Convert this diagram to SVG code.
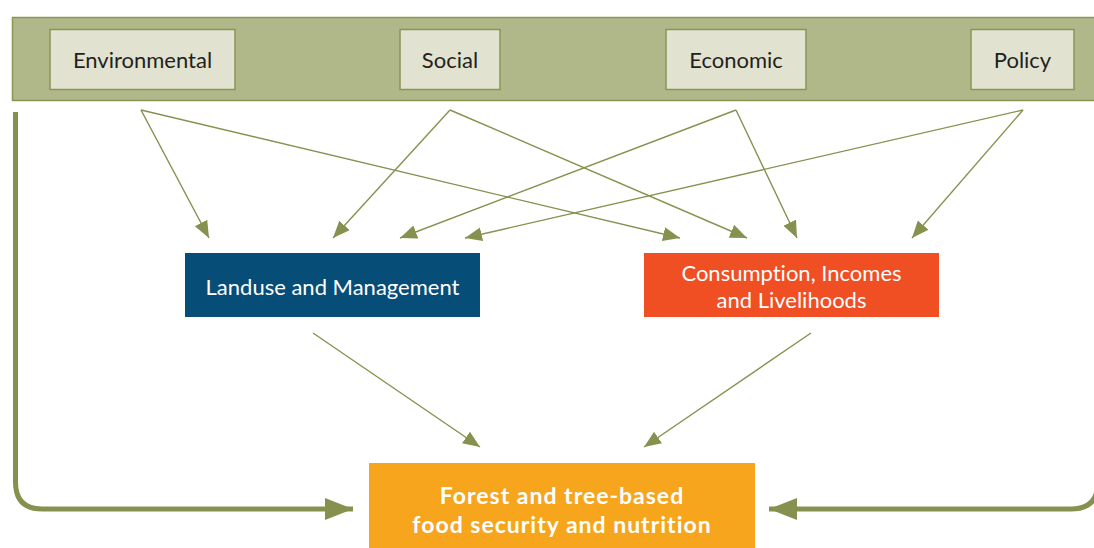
<svg xmlns="http://www.w3.org/2000/svg" width="1094" height="548" viewBox="0 0 1094 548">
<defs>
<style>
.thin{stroke:#87914f;stroke-width:1.4;fill:none;marker-end:url(#ah)}
.thick{stroke:#87914f;stroke-width:5;fill:none;marker-end:url(#ahb)}
.top{fill:#e1e3d0;stroke:#8a9455;stroke-width:1.5}
text{font-variant-ligatures:none}
.tt{font-family:Lato,"Open Sans",sans-serif;font-size:22px;fill:#231f20;text-anchor:middle}
.wt{font-family:Lato,"Open Sans",sans-serif;font-size:22px;fill:#ffffff;text-anchor:middle}
.bt{font-family:Lato,"Open Sans",sans-serif;font-size:23px;font-weight:bold;letter-spacing:1px;fill:#ffffff;text-anchor:middle}
</style>
<marker id="ah" markerUnits="userSpaceOnUse" markerWidth="20" markerHeight="16" refX="17" refY="7" orient="auto">
<path d="M0,0 L17,7 L0,14 Z" fill="#87914f"/>
</marker>
<marker id="ahb" markerUnits="userSpaceOnUse" markerWidth="30" markerHeight="24" refX="28" refY="11" orient="auto">
<path d="M0,0 L28,11 L0,22 Z" fill="#87914f"/>
</marker>
</defs>
<rect x="0" y="0" width="1094" height="548" fill="#ffffff"/>
<g id="band">
<rect x="12.5" y="17.5" width="1090" height="83" fill="#b0b88a" stroke="#8a9455" stroke-width="1.5"/>
</g>
<g id="connectors">
<line class="thin" x1="141" y1="110" x2="209" y2="238"/>
<line class="thin" x1="141" y1="110" x2="680" y2="238"/>
<line class="thin" x1="450" y1="110" x2="333" y2="238"/>
<line class="thin" x1="450" y1="110" x2="747" y2="238"/>
<line class="thin" x1="736" y1="110" x2="400" y2="238"/>
<line class="thin" x1="736" y1="110" x2="797" y2="238"/>
<line class="thin" x1="1023" y1="110" x2="465" y2="238"/>
<line class="thin" x1="1023" y1="110" x2="912" y2="238"/>
<line class="thin" x1="313" y1="333" x2="480" y2="447"/>
<line class="thin" x1="811" y1="333" x2="644" y2="447"/>
<path class="thick" d="M15.5,112 L15.5,482 Q15.5,509 42,509 L353,509"/>
<path class="thick" d="M1098,100 L1098,482 Q1098,509 1071,509 L769,509"/>
</g>
<g id="environmental">
<rect class="top" x="50" y="29.5" width="185" height="60"/>
<text class="tt" x="142.5" y="67.5">Environmental</text>
</g>
<g id="social">
<rect class="top" x="400" y="29.5" width="100" height="60"/>
<text class="tt" x="450" y="67.5">Social</text>
</g>
<g id="economic">
<rect class="top" x="666" y="29.5" width="140" height="60"/>
<text class="tt" x="736" y="67.5">Economic</text>
</g>
<g id="policy">
<rect class="top" x="971" y="29.5" width="103" height="60"/>
<text class="tt" x="1022.5" y="67.5">Policy</text>
</g>
<g id="landuse">
<rect x="185" y="253" width="295" height="64" fill="#064d78"/>
<text class="wt" x="332.5" y="294.5">Landuse and Management</text>
</g>
<g id="consumption">
<rect x="644" y="253" width="295" height="64" fill="#f04e23"/>
<text class="wt" x="791.5" y="280.5">Consumption, Incomes</text>
<text class="wt" x="791.5" y="307.5">and Livelihoods</text>
</g>
<g id="forest">
<rect x="369" y="463" width="386" height="85" fill="#f6a51d"/>
<text class="bt" x="562" y="503.5">Forest and tree-based</text>
<text class="bt" x="562" y="532.5">food security and nutrition</text>
</g>
</svg>
